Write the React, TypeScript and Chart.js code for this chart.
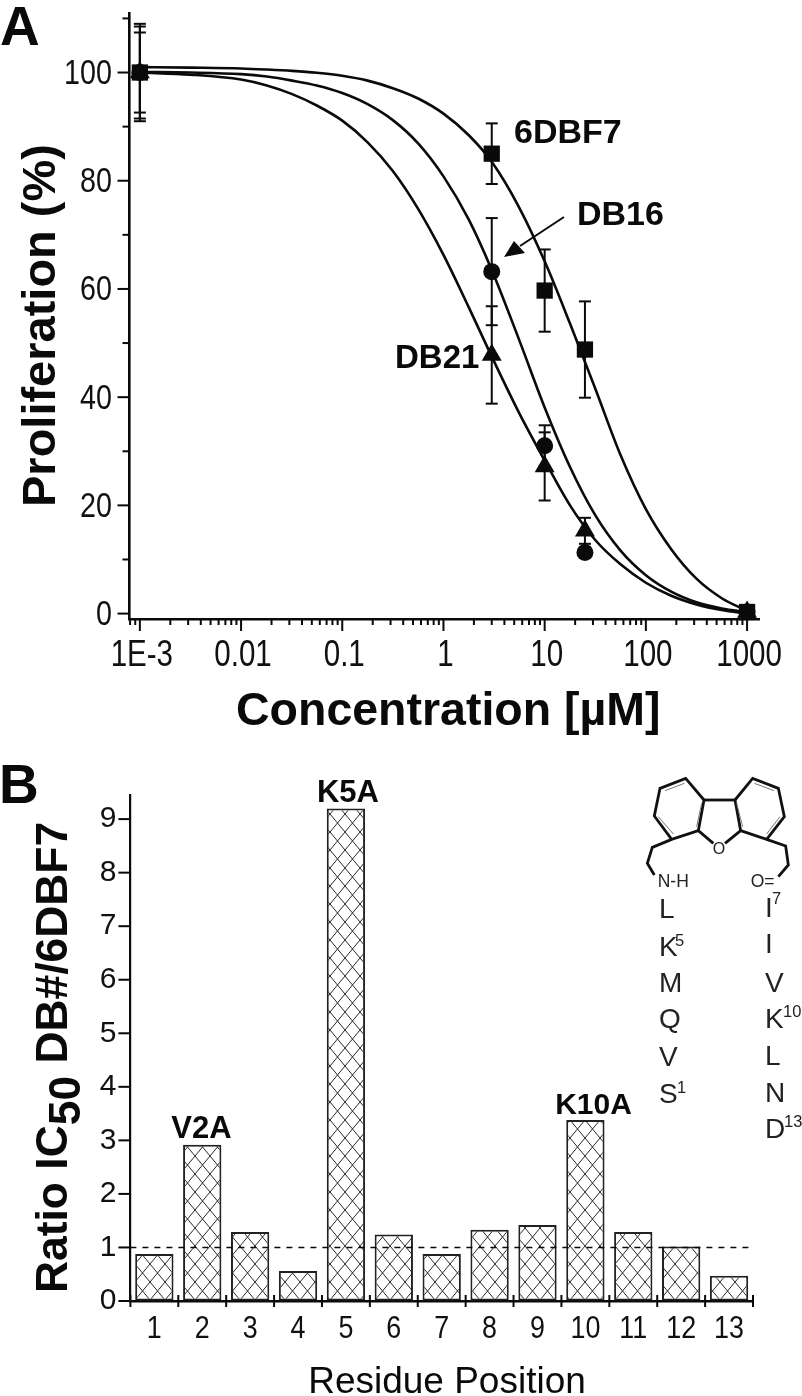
import React, { useEffect, useRef } from "react";
import { Chart, registerables } from "chart.js";

Chart.register(...registerables);

// ---- Panel A data ----
const concentrations = [0.001, 3, 10, 25, 1000];
const dbf7Values = [100, 85, 59.7, 48.8, 0.3];
const dbf7Errors = [7.4, 5.6, 7.6, 8.9, 0];
const db16Values = [100, 63.2, 31, 11.3, 0.3];
const db16Errors = [8.5, 9.9, 3.8, 1, 0];
const db21Values = [100, 47.8, 27.2, 15.3, 0.3];
const db21Errors = [9, 9, 6.3, 2.4, 0];

const curveX = [0.001, 0.00316, 0.01, 0.018, 0.032, 0.056, 0.1, 0.178, 0.316, 0.562, 1, 1.78, 3, 5.62, 10, 17.8, 31.6, 56.2, 100, 178, 316, 562, 1000];
const dbf7Curve = [101, 100.9, 100.75, 100.55, 100.3, 99.95, 99.4, 98.5, 97.1, 95.2, 92.4, 88.4, 83.5, 75, 65.1, 53.6, 41.6, 29.3, 19.3, 11.9, 6.45, 2.84, 0.5];
const db16Curve = [100.1, 100, 99.7, 99.25, 98.5, 97.6, 96.2, 94.15, 91.2, 86.9, 80.8, 72.8, 63.5, 50.5, 38.1, 27.1, 18.2, 11.65, 7.1, 4.06, 2.1, 0.95, 0.27];
const db21Curve = [100, 99.6, 98.7, 97.6, 96, 93.9, 91.1, 87.1, 81.8, 74.8, 66.3, 56.6, 47.5, 37, 28.3, 20, 13.6, 9.1, 5.7, 3.3, 1.7, 0.65, 0];

const xDecades = [0.001, 0.01, 0.1, 1, 10, 100, 1000];
const xDecadeLabels = ["1E-3", "0.01", "0.1", "1", "10", "100", "1000"];
const xMinorMultipliers = [2, 3, 4, 5, 6, 7, 8, 9];
const xLeadingMinors = [0.0008, 0.0009];
const yTicksA = [0, 10, 20, 30, 40, 50, 60, 70, 80, 90, 100, 110];
const yLabelsA = [0, 20, 40, 60, 80, 100];

// ---- Panel B data ----
const residues = ["1", "2", "3", "4", "5", "6", "7", "8", "9", "10", "11", "12", "13"];
const ratios = [0.88, 2.92, 1.29, 0.56, 9.2, 1.24, 0.88, 1.33, 1.42, 3.38, 1.29, 1.02, 0.47];
const yTicksB = [0, 0.5, 1, 1.5, 2, 2.5, 3, 3.5, 4, 4.5, 5, 5.5, 6, 6.5, 7, 7.5, 8, 8.5, 9];
const referenceRatio = 1;

const SANS = '"Liberation Sans", Arial, sans-serif';
const INK = "#0a0a0a";

function line(ctx: CanvasRenderingContext2D, x1: number, y1: number, x2: number, y2: number) {
  ctx.beginPath();
  ctx.moveTo(x1, y1);
  ctx.lineTo(x2, y2);
  ctx.stroke();
}

function narrowText(
  ctx: CanvasRenderingContext2D,
  text: string,
  x: number,
  y: number,
  size: number,
  squeeze: number,
  align: CanvasTextAlign
) {
  ctx.save();
  ctx.translate(x, y);
  ctx.scale(squeeze, 1);
  ctx.font = `${size}px ${SANS}`;
  ctx.fillStyle = "#111";
  ctx.textAlign = align;
  ctx.textBaseline = "alphabetic";
  ctx.fillText(text, 0, 0);
  ctx.restore();
}

function sizeScale(size: { width?: number; height?: number }) {
  return (scale: any) => {
    if (size.width !== undefined) scale.width = size.width;
    if (size.height !== undefined) scale.height = size.height;
    scale.paddingTop = 0;
    scale.paddingBottom = 0;
    scale.paddingLeft = 0;
    scale.paddingRight = 0;
  };
}

const errorBarSets = [
  { values: dbf7Values, errors: dbf7Errors },
  { values: db16Values, errors: db16Errors },
  { values: db21Values, errors: db21Errors },
];

const panelAPlugin = {
  id: "panelA",
  beforeDatasetsDraw(chart: any) {
    const { ctx, scales } = chart;
    ctx.save();
    ctx.strokeStyle = INK;
    ctx.lineWidth = 2;
    errorBarSets.forEach(({ values, errors }) => {
      concentrations.forEach((c, i) => {
        if (!errors[i]) return;
        const x = scales.x.getPixelForValue(c);
        const top = scales.y.getPixelForValue(values[i] + errors[i]);
        const bottom = scales.y.getPixelForValue(values[i] - errors[i]);
        line(ctx, x, top, x, bottom);
        line(ctx, x - 6, top, x + 6, top);
        line(ctx, x - 6, bottom, x + 6, bottom);
      });
    });
    ctx.restore();
  },
  afterDraw(chart: any) {
    const { ctx, scales } = chart;
    ctx.save();
    ctx.strokeStyle = INK;
    ctx.lineWidth = 2;
    scales.x.ticks.forEach((t: any) => {
      const x = scales.x.getPixelForValue(t.value);
      const y0 = scales.x.top;
      line(ctx, x, y0, x, y0 + (t.major ? 12 : 6));
      if (t.label) narrowText(ctx, String(t.label), x + 2, y0 + 46.5, 36, 0.82, "center");
    });
    scales.y.ticks.forEach((t: any) => {
      const y = scales.y.getPixelForValue(t.value);
      const x0 = scales.y.right;
      line(ctx, x0, y, x0 - (t.value % 20 === 0 ? 12 : 7), y);
      if (t.label) narrowText(ctx, String(t.label), x0 - 17.5, y + 11.5, 35, 0.82, "right");
    });
    ctx.restore();
  },
};

const panelBPlugin = {
  id: "panelB",
  afterDraw(chart: any) {
    const { ctx, scales } = chart;
    ctx.save();
    ctx.strokeStyle = INK;
    ctx.lineWidth = 1.6;
    ctx.setLineDash([6, 6]);
    const yRef = scales.y.getPixelForValue(referenceRatio);
    line(ctx, scales.x.left, yRef, scales.x.right - 2, yRef);
    ctx.setLineDash([]);
    ctx.lineWidth = 2;
    const step = (scales.x.right - scales.x.left) / residues.length;
    for (let i = 0; i <= residues.length; i++) {
      const x = scales.x.getPixelForValue(0) - step / 2 + i * step;
      line(ctx, x, scales.x.top - 6, x, scales.x.top + 6);
    }
    residues.forEach((label, i) => {
      narrowText(ctx, label, scales.x.getPixelForValue(i), scales.x.top + 37, 32, 0.84, "center");
    });
    scales.y.ticks.forEach((t: any) => {
      const y = scales.y.getPixelForValue(t.value);
      line(ctx, scales.y.right, y, scales.y.right - (Number.isInteger(t.value) ? 12 : 7), y);
    });
    ctx.restore();
  },
};

function hatchPattern(ctx: CanvasRenderingContext2D) {
  const c = document.createElement("canvas");
  c.width = 15;
  c.height = 18;
  const p = c.getContext("2d")!;
  p.fillStyle = "#ffffff";
  p.fillRect(0, 0, 15, 18);
  p.strokeStyle = "#2a2a2a";
  p.lineWidth = 1;
  line(p, 0, 0, 15, 18);
  line(p, 15, 0, 0, 18);
  return ctx.createPattern(c, "repeat")!;
}

function curveDataset(label: string, ys: number[], order: number) {
  return {
    label,
    data: curveX.map((x, i) => ({ x, y: ys[i] })),
    showLine: true,
    cubicInterpolationMode: "monotone",
    borderColor: INK,
    borderWidth: 2.6,
    pointRadius: 0,
    order,
    clip: false,
  };
}

function markerDataset(label: string, ys: number[], pointStyle: string, pointRadius: number, order: number) {
  return {
    label,
    data: concentrations.map((x, i) => ({ x, y: ys[i] })),
    showLine: false,
    pointStyle,
    pointRadius,
    backgroundColor: INK,
    borderColor: INK,
    borderWidth: 0,
    order,
    clip: false,
  };
}

function Sup({ x, y, base, sup, sx, sy }: { x: number; y: number; base: string; sup?: string; sx?: number; sy?: number }) {
  return (
    <>
      <text x={x} y={y} fontSize={28}>{base}</text>
      {sup ? <text x={sx} y={sy} fontSize={16.5}>{sup}</text> : null}
    </>
  );
}

const zx = (v: number) => 620 + v / 3;
const zy = (v: number) => 760 + v / 3;
const pts = (list: number[][]) => list.map(([a, b]) => `${zx(a)},${zy(b)}`).join(" ");

export default function App() {
  const refA = useRef<HTMLCanvasElement>(null);
  const refB = useRef<HTMLCanvasElement>(null);

  useEffect(() => {
    document.body.style.margin = "0";
    const chartA = new Chart(refA.current!, {
      type: "scatter",
      data: {
        datasets: [
          markerDataset("6DBF7", dbf7Values, "rect", 11.5, 1),
          markerDataset("DB21", db21Values, "triangle", 11.5, 2),
          markerDataset("DB16", db16Values, "circle", 8.5, 3),
          curveDataset("6DBF7 fit", dbf7Curve, 4),
          curveDataset("DB16 fit", db16Curve, 5),
          curveDataset("DB21 fit", db21Curve, 6),
        ] as any,
      },
      options: {
        animation: false,
        responsive: false,
        devicePixelRatio: 1,
        layout: { padding: { top: 13, right: 42.4, left: 0, bottom: 0 } },
        plugins: { legend: { display: false }, tooltip: { enabled: false } },
        scales: {
          x: {
            type: "logarithmic",
            min: 0.00079,
            max: 1330,
            border: { color: INK, width: 2.6 },
            grid: { drawOnChartArea: false, drawTicks: false },
            afterFit: sizeScale({ height: 141 }),
            afterBuildTicks: (scale: any) => {
              const list: any[] = xLeadingMinors.map((value) => ({ value }));
              xDecades.forEach((d, i) => {
                list.push({ value: d, major: true });
                if (i < xDecades.length - 1) xMinorMultipliers.forEach((m) => list.push({ value: d * m }));
              });
              scale.ticks = list;
            },
            ticks: {
              display: false,
              autoSkip: false,
              maxRotation: 0,
              minRotation: 0,
              callback: (v: any) => {
                const i = xDecades.findIndex((d) => Math.abs(d - Number(v)) < d * 1e-6);
                return i >= 0 ? xDecadeLabels[i] : "";
              },
            },
          },
          y: {
            type: "linear",
            min: -1,
            max: 111,
            border: { color: INK, width: 2.6 },
            grid: { drawOnChartArea: false, drawTicks: false },
            afterFit: sizeScale({ width: 129.5 }),
            afterBuildTicks: (scale: any) => {
              scale.ticks = yTicksA.map((value) => ({ value }));
            },
            ticks: {
              display: false,
              callback: (v: any) => (yLabelsA.includes(Number(v)) ? String(v) : ""),
            },
          },
        },
      },
      plugins: [panelAPlugin],
    } as any);

    const ctxB = refB.current!.getContext("2d")!;
    const chartB = new Chart(refB.current!, {
      type: "bar",
      data: {
        labels: residues,
        datasets: [
          {
            label: "Ratio",
            data: ratios,
            backgroundColor: hatchPattern(ctxB),
            borderColor: "#222",
            borderWidth: 2,
            borderSkipped: false,
            barPercentage: 0.8,
            categoryPercentage: 1,
          },
        ],
      },
      options: {
        animation: false,
        responsive: false,
        devicePixelRatio: 1,
        layout: { padding: { top: 35, right: 49, left: 0, bottom: 0 } },
        plugins: { legend: { display: false }, tooltip: { enabled: false } },
        scales: {
          x: {
            type: "category",
            border: { color: INK, width: 2.6 },
            grid: { drawOnChartArea: false, drawTicks: false },
            afterFit: sizeScale({ height: 95 }),
            ticks: { display: false, autoSkip: false, maxRotation: 0, minRotation: 0 },
          },
          y: {
            type: "linear",
            min: 0,
            max: 9.45,
            border: { color: INK, width: 2.2 },
            grid: { drawOnChartArea: false, drawTicks: false },
            afterFit: sizeScale({ width: 130.4 }),
            afterBuildTicks: (scale: any) => {
              scale.ticks = yTicksB.map((value) => ({ value }));
            },
            ticks: {
              padding: 14,
              color: "#111",
              font: { family: SANS, size: 30 },
              callback: (v: any) => (Number.isInteger(Number(v)) ? String(v) : ""),
            },
          },
        },
      },
      plugins: [panelBPlugin],
    } as any);

    return () => {
      chartA.destroy();
      chartB.destroy();
    };
  }, []);

  return (
    <div style={{ position: "absolute", left: 0, top: 0, width: 802, height: 1396, background: "#fff", overflow: "hidden" }}>
      <canvas ref={refA} width={802} height={760} style={{ position: "absolute", left: 0, top: 0, width: 802, height: 760 }} />
      <canvas ref={refB} width={802} height={636} style={{ position: "absolute", left: 0, top: 760, width: 802, height: 636 }} />
      <svg width={802} height={1396} style={{ position: "absolute", left: 0, top: 0, pointerEvents: "none" }} fontFamily={SANS} fill="#0a0a0a">
        <text x={0} y={45} fontSize={55} fontWeight="bold">A</text>
        <text x={-1} y={803} fontSize={55} fontWeight="bold">B</text>

        <text transform="translate(55,507) rotate(-90)" fontSize={47} fontWeight="bold">Proliferation (%)</text>
        <text x={236} y={725} fontSize={46.5} fontWeight="bold">Concentration [µM]</text>
        <text x={514} y={143} fontSize={34} fontWeight="bold">6DBF7</text>
        <text x={577} y={225} fontSize={34} fontWeight="bold">DB16</text>
        <text x={395} y={368} fontSize={33} fontWeight="bold">DB21</text>
        <line x1={564} y1={217} x2={520} y2={246} stroke="#0a0a0a" strokeWidth={2} />
        <polygon points="504,257 514,241 525,253" />

        <text transform="translate(67,1293) rotate(-90)" fontSize={44.4} fontWeight="bold">
          Ratio IC<tspan dy={13}>50</tspan><tspan dy={-13}> DB#/6DBF7</tspan>
        </text>
        <text x={447} y={1393} fontSize={37} textAnchor="middle">Residue Position</text>
        <text x={201.5} y={1138} fontSize={31} fontWeight="bold" textAnchor="middle">V2A</text>
        <text x={348} y={802} fontSize={31} fontWeight="bold" textAnchor="middle">K5A</text>
        <text x={593.5} y={1114} fontSize={30} fontWeight="bold" textAnchor="middle">K10A</text>

        <g fill="none" stroke="#111" strokeWidth={2.8}>
          <polygon points={pts([[120, 85], [197, 55], [252, 120], [235, 212], [155, 238], [103, 168]])} />
          <polygon points={pts([[345, 120], [398, 55], [475, 85], [493, 170], [440, 238], [362, 212]])} />
          <polyline points={pts([[252, 120], [345, 120]])} />
          <polyline points={pts([[235, 212], [280, 250]])} />
          <polyline points={pts([[362, 212], [315, 250]])} />
          <polyline points={pts([[155, 238], [97, 262], [82, 310], [103, 345]])} />
          <polyline points={pts([[440, 238], [497, 258], [505, 315], [475, 350]])} />
        </g>
        <g fill="none" stroke="#777" strokeWidth={1}>
          <polyline points={pts([[135, 92], [193, 70]])} />
          <polyline points={pts([[245, 130], [230, 200]])} />
          <polyline points={pts([[160, 222], [115, 170]])} />
          <polyline points={pts([[350, 130], [368, 200]])} />
          <polyline points={pts([[403, 70], [462, 92]])} />
          <polyline points={pts([[480, 170], [440, 222]])} />
        </g>
        <text x={zx(297)} y={zy(281)} fontSize={16} textAnchor="middle" fill="#222">O</text>
        <text x={657.7} y={886.7} fontSize={17.5} fill="#222">N-H</text>
        <text x={750.7} y={886.7} fontSize={17.5} fill="#222">O=</text>

        <g fill="#222">
          <Sup x={659} y={918} base="L" />
          <Sup x={659} y={956} base="K" sup="5" sx={675} sy={946} />
          <Sup x={659} y={992} base="M" />
          <Sup x={659} y={1028} base="Q" />
          <Sup x={659} y={1066} base="V" />
          <Sup x={659} y={1103} base="S" sup="1" sx={677} sy={1093} />
          <Sup x={765} y={917} base="I" sup="7" sx={772} sy={904} />
          <Sup x={765} y={953} base="I" />
          <Sup x={765} y={992} base="V" />
          <Sup x={765} y={1028} base="K" sup="10" sx={783} sy={1017} />
          <Sup x={765} y={1065} base="L" />
          <Sup x={765} y={1102} base="N" />
          <Sup x={765} y={1138} base="D" sup="13" sx={784} sy={1127} />
        </g>
      </svg>
    </div>
  );
}
